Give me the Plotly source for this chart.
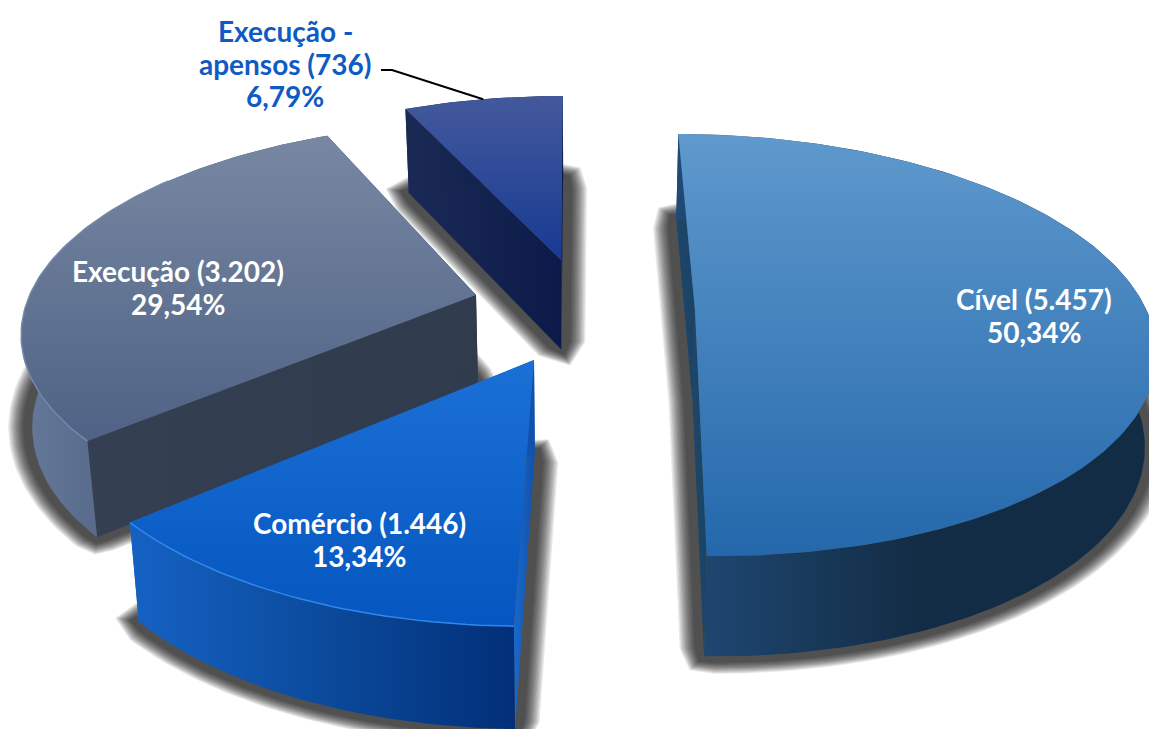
import numpy as np
import plotly.graph_objects as go

# Processes per subject
categories = ["Cível", "Comércio", "Execução", "Execução - apensos"]
counts = [5457, 1446, 3202, 736]

# Camera of the tilted pie: vanishing column/row, radii, perspective strength
VX, VY, RX, RY, PERSP = 575.0, 300.0, 448.0, 202.0, 0.16
FLOOR_SHRINK = 0.98
DEPTH_BASE, DEPTH_SCALE = 45.0, 46.0

# Screen position of each slice's tip after it is pulled out of the pie
tips = {"Cível": (695, 311), "Comércio": (534, 360), "Execução": (476, 295), "Execução - apensos": (561, 260)}

# Gradient stops run from the lower/left end of a face to its upper/right end
styles = {
    "Cível": dict(top=("#2468ab", "#5f99cd"), rim=("#1f4a75", "#132c46", "#132c46"), cut=("#1d4669", "#1b4365"), edge=None),
    "Comércio": dict(top=("#0556c0", "#1b70d6"), rim=("#1562c4", "#0b4a9c", "#022f78"), cut=("#1b68ca", "#0f52ab"), edge="#3088ea"),
    "Execução": dict(top=("#4f6285", "#7888a3"), rim=("#66799a", "#4a5c7c", "#3c4e6c"), cut=("#344052", "#303c4e"), edge="#7488aa"),
    "Execução - apensos": dict(top=("#173a92", "#44599c"), rim=("#1b2a55", "#0b1a45"), cut=("#1b2a55", "#0b1a48"), edge=None),
}

# Centre column, first text row and colour of each label
label_pos = {
    "Cível": (1034, 299, "white"),
    "Comércio": (359, 523, "white"),
    "Execução": (178, 271, "white"),
    "Execução - apensos": (285, 31, "#0f5bc4"),
}
LINE_STEP = 32.5

total = sum(counts)
fractions = [c / total for c in counts]
edges = np.cumsum([0.0] + fractions) * 2 * np.pi


def depth_of_row(offset):
    """World depth whose projected row sits `offset` pixels above the vanishing row."""
    return offset / (RY - PERSP * offset)


def project(theta, radius, tip):
    """Top-face screen points for polar coordinates measured from a slice's tip."""
    wy0 = depth_of_row(VY - tip[1])
    s0 = 1 / (1 + PERSP * wy0)
    u0 = (tip[0] - VX) / s0
    wy = wy0 + radius * np.cos(theta)
    s = 1 / (1 + PERSP * wy)
    return VX + (u0 + RX * radius * np.sin(theta)) * s, VY - RY * wy * s, s


def floor(x, y, s):
    return VX + (x - VX) * FLOOR_SHRINK, y + DEPTH_BASE + DEPTH_SCALE * s


def dilate(x, y, grow_x, grow_y):
    """Push a closed outline outwards along its normals."""
    area = np.sum(x * np.roll(y, -1) - np.roll(x, -1) * y)
    sign = 1 if area > 0 else -1
    tx = np.roll(x, -1) - np.roll(x, 1)
    ty = np.roll(y, -1) - np.roll(y, 1)
    n = np.hypot(tx, ty) + 1e-9
    return x + sign * ty / n * grow_x, y - sign * tx / n * grow_y


def densify(x, y, step=8.0):
    xs, ys = [], []
    for i in range(len(x)):
        j = (i + 1) % len(x)
        k = max(1, int(np.hypot(x[j] - x[i], y[j] - y[i]) / step))
        f = np.arange(k) / k
        xs.append(x[i] + (x[j] - x[i]) * f)
        ys.append(y[i] + (y[j] - y[i]) * f)
    return np.concatenate(xs), np.concatenate(ys)


def polygon(x, y, colors=None, kind="horizontal", solid=None):
    trace = dict(x=list(x) + [x[0]], y=list(y) + [y[0]], mode="lines", fill="toself",
                 line=dict(width=0), hoverinfo="skip", showlegend=False)
    if colors is not None:
        stops = np.linspace(0, 1, len(colors))
        trace["fillgradient"] = dict(type=kind, colorscale=[[float(p), c] for p, c in zip(stops, colors)])
    else:
        trace["fillcolor"] = solid
    return go.Scatter(**trace)


fig = go.Figure()
draw_order = [3, 2, 1, 0]
for idx in draw_order:
    name = categories[idx]
    tip = tips[name]
    st = styles[name]
    a0, a1 = edges[idx], edges[idx + 1]
    th = np.linspace(a0, a1, max(12, int((a1 - a0) * 50)))
    ax, ay, s_arc = project(th, 1.0, tip)
    tx, ty, s_tip = project(np.array([0.0]), 0.0, tip)
    bax, bay = floor(ax, ay, s_arc)
    btx, bty = floor(tx, ty, s_tip)

    # soft drop shadow of the slice's underside
    ox = np.concatenate([tx, ax])
    oy = np.concatenate([ty, ay])
    fx, fy = floor(ox, oy, np.concatenate([s_tip, s_arc]))
    fx, fy = densify(fx, fy)
    for d in np.linspace(24, 9, 12):
        sx, sy = dilate(fx, fy, d, d * 0.72)
        fig.add_trace(polygon(sx, sy, solid="rgba(0,0,0,0.09)"))

    # cut faces along both straight edges
    for k in (0, -1):
        fig.add_trace(polygon([tx[0], ax[k], bax[k], btx[0]], [ty[0], ay[k], bay[k], bty[0]], st["cut"]))

    # outer rim, top arc forward and floor arc back
    fig.add_trace(polygon(np.concatenate([ax, bax[::-1]]), np.concatenate([ay, bay[::-1]]), st["rim"]))

    # top face
    fig.add_trace(polygon(np.concatenate([tx, ax]), np.concatenate([ty, ay]), st["top"], "vertical"))

    # bright bevel where the top face meets the rim
    if st["edge"]:
        fig.add_trace(go.Scatter(x=ax[: len(ax) * 3 // 4] if name == "Execução" else ax,
                                 y=ay[: len(ay) * 3 // 4] if name == "Execução" else ay,
                                 mode="lines", line=dict(color=st["edge"], width=1.5),
                                 hoverinfo="skip", showlegend=False))

# Leader from the smallest slice's arc to its label
mid = 0.5 * (edges[3] + edges[4])
lx, ly, _ = project(np.array([mid]), 1.0, tips[categories[3]])
fig.add_trace(go.Scatter(x=[381, 392, lx[0]], y=[70, 70, ly[0]], mode="lines",
                         line=dict(color="black", width=2), hoverinfo="skip", showlegend=False))

for name, count, frac in zip(categories, counts, fractions):
    x, y, color = label_pos[name]
    head = name.replace(" - ", " -\n") + f" ({count:,})".replace(",", ".")
    pct = f"{frac * 100:.2f}%".replace(".", ",")
    for row, line in enumerate(head.split("\n") + [pct]):
        fig.add_annotation(x=x, y=y + row * LINE_STEP, text=f"<b>{line}</b>", showarrow=False,
                           font=dict(family="Lato", size=28, color=color))

fig.update_layout(
    width=1149, height=729, margin=dict(l=0, r=0, t=0, b=0),
    paper_bgcolor="white", plot_bgcolor="white", showlegend=False,
    xaxis=dict(range=[0, 1149], visible=False, fixedrange=True),
    yaxis=dict(range=[729, 0], visible=False, fixedrange=True),
)
fig.write_html("out.html")
